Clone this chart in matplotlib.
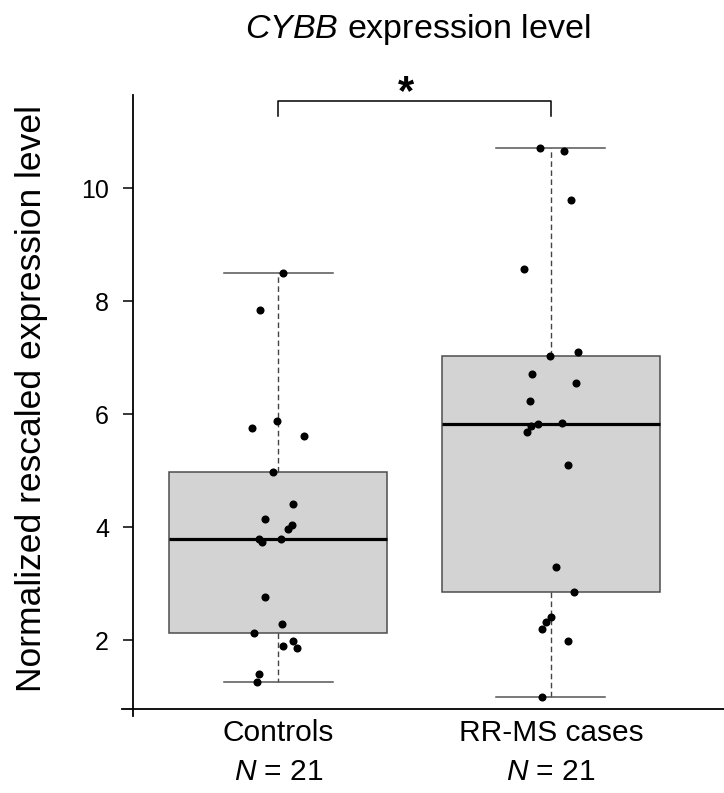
import matplotlib
matplotlib.use("Agg")
from matplotlib import pyplot as plt

plt.rcParams["font.family"] = ["Liberation Sans", "DejaVu Sans"]
plt.rcParams["mathtext.fontset"] = "custom"
plt.rcParams["mathtext.rm"] = "Liberation Sans"
plt.rcParams["mathtext.it"] = "Liberation Sans:italic"

# values
groups = ["Controls", "RR-MS cases"]
n_labels = ["$N$ = 21", "$N$ = 21"]
controls = [8.50, 7.84, 5.88, 5.75, 5.61, 4.97, 4.41, 4.14, 4.04, 3.96, 3.79,
            3.78, 3.73, 2.77, 2.28, 2.13, 1.99, 1.90, 1.86, 1.39, 1.26]
controls_jitter = [0.017, -0.067, -0.006, -0.098, 0.095, -0.019, 0.052, -0.048,
                   0.050, 0.035, 0.009, -0.072, -0.061, -0.048, 0.013, -0.091,
                   0.053, 0.017, 0.068, -0.073, -0.080]
rrms = [10.70, 10.65, 9.79, 8.57, 7.10, 7.03, 6.70, 6.54, 6.23, 5.84, 5.82,
        5.78, 5.68, 5.09, 3.30, 2.85, 2.40, 2.31, 2.19, 1.99, 1.00]
rrms_jitter = [-0.039, 0.047, 0.072, -0.098, 0.100, -0.004, -0.069, 0.093,
               -0.078, 0.041, -0.047, -0.073, -0.089, 0.063, 0.018, 0.086,
               0.0, -0.018, -0.033, 0.063, -0.033]
yticks = [2, 4, 6, 8, 10]

fig = plt.figure(figsize=(7.24, 7.93), dpi=100)
ax = fig.add_axes([122 / 724, 1 - 716 / 793, 1 - 122 / 724, (716 - 95) / 793])

positions = [1, 2]
ax.boxplot([controls, rrms], positions=positions, widths=0.80, whis=(0, 100),
           patch_artist=True, showfliers=False, capwidths=0.40,
           boxprops=dict(facecolor="#d3d3d3", edgecolor="#4d4d4d", linewidth=1.1),
           medianprops=dict(color="black", linewidth=2.3),
           whiskerprops=dict(color="#444444", linewidth=1.0, linestyle=(0, (4, 2.5))),
           capprops=dict(color="#555555", linewidth=1.1))

for pos, vals, jit in zip(positions, [controls, rrms], [controls_jitter, rrms_jitter]):
    ax.plot([pos + j for j in jit], vals, "o", color="black", markersize=5.8,
            markeredgewidth=0, zorder=5)

ax.set_xlim(0.4257, 2.635)
ax.set_ylim(0.655, 11.646)
ax.spines["top"].set_visible(False)
ax.spines["right"].set_visible(False)
ax.spines["left"].set_position(("data", 0.4661))
ax.spines["bottom"].set_position(("data", 0.784))
for s in ["left", "bottom"]:
    ax.spines[s].set_linewidth(1.3)
ax.set_xticks([])
ax.set_yticks(yticks)
ax.tick_params(axis="y", length=7.2, width=1.1, pad=10, labelsize=18)

# group labels under the axis
trans = ax.get_xaxis_transform()
for pos, g, n in zip(positions, groups, n_labels):
    ax.text(pos, -0.040, g, transform=trans, ha="center", va="baseline", fontsize=21.5)
    ax.text(pos, -0.103, n, transform=trans, ha="center", va="baseline", fontsize=21.5)

# significance bracket
ax.plot([1, 1, 2, 2], [11.27, 11.545, 11.545, 11.27], color="black", lw=1.1,
        clip_on=False)
ax.text(1.468, 11.48, "*", ha="center", va="baseline", fontsize=30,
        fontweight="bold")

fig.text(418 / 724, 1 - 38 / 793, "$CYBB$ expression level", ha="center",
         va="baseline", fontsize=24.5)
fig.text(41 / 724, 1 - 399 / 793, "Normalized rescaled expression level",
         rotation=90, rotation_mode="anchor", ha="center", va="baseline",
         fontsize=25.5)

fig.savefig("out.png", dpi=100)
